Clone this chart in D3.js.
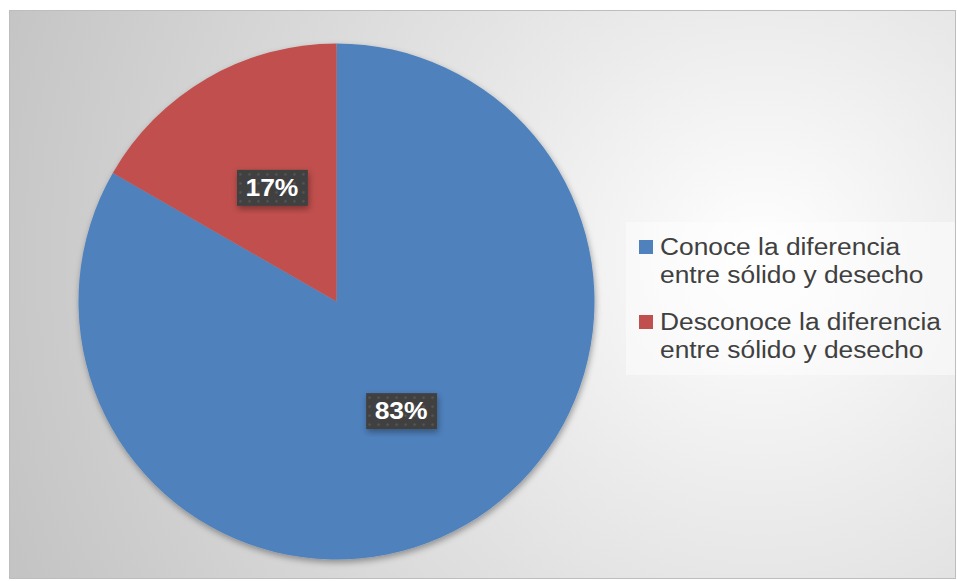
<!DOCTYPE html>
<html lang="es">
  <head>
    <meta charset="UTF-8" />
    <title>Sólido y desecho</title>
    <script src="https://d3js.org/d3.v7.min.js"></script>
    <style>
      body { margin: 0; background: #fff; }
    </style>
  </head>
  <body>
    <script>
      // datos
      var categories = [
        ["Conoce la diferencia", "entre sólido y desecho"],
        ["Desconoce la diferencia", "entre sólido y desecho"],
      ];
      var values = [83.3, 16.7];
      var colors = ["#4f81bd", "#c0504d"];

      var W = 957, H = 581;
      var svg = d3.select("body").append("svg").attr("width", W).attr("height", H);
      var defs = svg.append("defs");

      var bg = defs.append("radialGradient").attr("id", "bg")
        .attr("gradientUnits", "userSpaceOnUse")
        .attr("cx", 760).attr("cy", 260).attr("r", 800);
      bg.append("stop").attr("offset", "0%").attr("stop-color", "#ffffff");
      bg.append("stop").attr("offset", "30%").attr("stop-color", "#ececec");
      bg.append("stop").attr("offset", "100%").attr("stop-color", "#c4c4c4");

      var sh = defs.append("filter").attr("id", "shadow")
        .attr("x", "-20%").attr("y", "-20%").attr("width", "140%").attr("height", "140%");
      sh.append("feDropShadow").attr("dx", 1).attr("dy", 3).attr("stdDeviation", 3)
        .attr("flood-color", "#000").attr("flood-opacity", 0.35);

      var pat = defs.append("pattern").attr("id", "dots")
        .attr("patternUnits", "userSpaceOnUse").attr("width", 9).attr("height", 9);
      pat.append("rect").attr("width", 9).attr("height", 9).attr("fill", "#404040");
      pat.append("circle").attr("cx", 4.5).attr("cy", 4.5).attr("r", 1.3).attr("fill", "#565656");

      // fondo del gráfico
      svg.append("rect").attr("x", 9.5).attr("y", 10.5).attr("width", 946).attr("height", 568)
        .attr("fill", "url(#bg)").attr("stroke", "#bdbdbd").attr("stroke-width", 1);

      var cx = 336.5, cy = 301.5, radius = 258;
      var pie = d3.pie().sort(null).value(function (d) { return d; });
      var arc = d3.arc().innerRadius(0).outerRadius(radius);

      var g = svg.append("g").attr("transform", "translate(" + cx + "," + cy + ")");
      g.append("g").attr("filter", "url(#shadow)")
        .selectAll("path").data(pie(values)).enter().append("path")
        .attr("d", arc)
        .attr("fill", function (d, i) { return colors[i]; });

      var total = d3.sum(values);
      var lab = g.selectAll(".lab").data(pie(values)).enter().append("g")
        .attr("class", "lab")
        .attr("transform", function (d) {
          var c = arc.centroid(d);
          return "translate(" + c[0] + "," + (c[1] - 2) + ")";
        });
      lab.append("rect")
        .attr("x", -35).attr("y", -18).attr("width", 71).attr("height", 36)
        .attr("fill", "url(#dots)").attr("filter", "url(#shadow)");
      lab.append("text")
        .attr("text-anchor", "middle").attr("dy", "0.36em")
        .attr("transform", "scale(1.15,1)")
        .style("font-family", "Arial, 'Liberation Sans', sans-serif")
        .style("font-weight", "bold").style("font-size", "23px")
        .attr("fill", "#fff")
        .text(function (d) { return Math.round(d.data / total * 100) + "%"; });

      // leyenda
      var leg = svg.append("g");
      leg.append("rect").attr("x", 626).attr("y", 222).attr("width", 329).attr("height", 153)
        .attr("fill", "#ffffff").attr("fill-opacity", 0.45);
      var items = leg.selectAll(".item").data(categories).enter().append("g")
        .attr("class", "item")
        .attr("transform", function (d, i) { return "translate(639," + (240 + i * 75) + ")"; });
      items.append("rect").attr("width", 14).attr("height", 14)
        .attr("fill", function (d, i) { return colors[i]; });
      items.append("text")
        .attr("transform", "translate(21,15) scale(1.145,1)")
        .style("font-family", "Arial, 'Liberation Sans', sans-serif")
        .style("font-size", "23px")
        .attr("fill", "#404040")
        .selectAll("tspan").data(function (d) { return d; }).enter().append("tspan")
        .attr("x", 0).attr("y", function (d, i) { return i * 28; })
        .text(function (d) { return d; });
    </script>
  </body>
</html>
